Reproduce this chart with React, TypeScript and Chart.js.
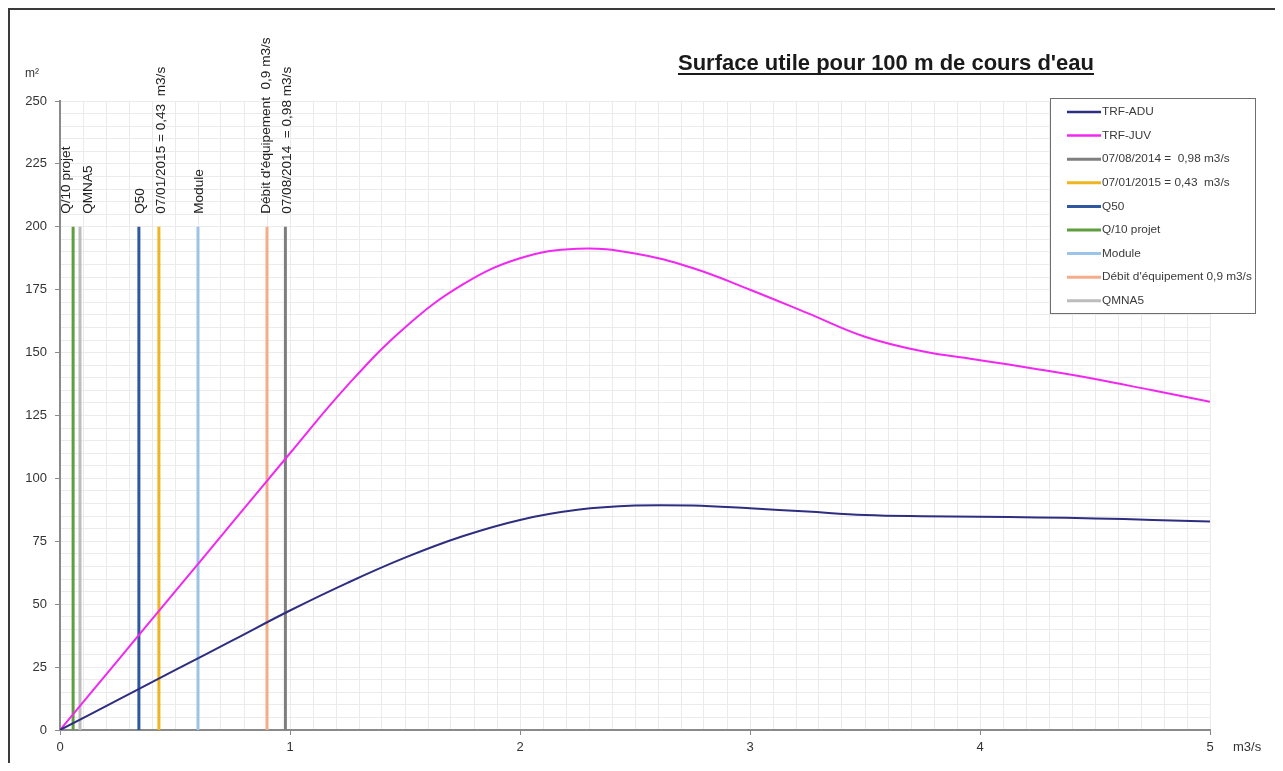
import React, { useEffect, useRef } from "react";
import { Chart, registerables } from "chart.js";

Chart.register(...registerables);

// Flow values (m3/s)
const flows = [0, 0.25, 0.5, 0.75, 1, 1.25, 1.5, 1.75, 2, 2.25, 2.5, 2.75, 3, 3.25, 3.5, 3.75, 4, 4.25, 4.5, 4.75, 5];
// Surface utile (m²) for 100 m
const trfAdu = [0, 11.9, 23.8, 35.6, 47.5, 58.5, 68.5, 77, 83.5, 87.5, 89.2, 89.2, 88.1, 86.8, 85.5, 85, 84.8, 84.5, 84.1, 83.5, 82.9];
const trfJuv = [0, 27.5, 55, 82.5, 110, 137, 160, 177, 187.5, 191.3, 189.4, 183.6, 175, 165.7, 156.3, 150.5, 147, 143.4, 139.5, 135, 130.5];

const seriesNames = ["TRF-ADU", "TRF-JUV"];
const seriesColors = ["#2E2E80", "#F028F0"];

// Reference flows (vertical markers)
const refNames = ["07/08/2014 =  0,98 m3/s", "07/01/2015 = 0,43  m3/s", "Q50", "Q/10 projet", "Module", "Débit d'équipement 0,9 m3/s", "QMNA5"];
const refTags = ["07/08/2014  = 0,98 m3/s", "07/01/2015 = 0,43  m3/s", "Q50", "Q/10 projet", "Module", "Débit d'équipement  0,9 m3/s", "QMNA5"];
const refFlows = [0.98, 0.43, 0.343, 0.057, 0.6, 0.9, 0.087];
const refHeight = 200;
const refColors = ["#7F7F7F", "#EDB520", "#2F56A0", "#5E9E3E", "#9DC3E6", "#F4AC8A", "#BDBDBD"];
const refTagDx = [2, 2, 1, -7, 1, -1, 8];

const xTickLabels = ["0", "1", "2", "3", "4", "5"];
const yTickLabels = ["0", "25", "50", "75", "100", "125", "150", "175", "200", "225", "250"];

const titleText = "Surface utile pour 100 m de cours d'eau";
const yUnit = "m²";
const xUnit = "m3/s";

const FONT = "'Liberation Sans', Arial, sans-serif";

const overlayPlugin = {
  id: "overlay",
  afterDraw(chart: any) {
    const ctx = chart.ctx as CanvasRenderingContext2D;
    const xs = chart.scales.x;
    const ys = chart.scales.y;
    const W = chart.width;
    ctx.save();

    // outer frame (top & left)
    ctx.strokeStyle = "#3a3a3a";
    ctx.lineWidth = 2;
    ctx.beginPath();
    ctx.moveTo(W, 1);
    ctx.lineTo(1, 1);
    ctx.lineTo(1, chart.height);
    ctx.stroke();

    // title
    ctx.fillStyle = "#1a1a1a";
    ctx.font = `bold 22px ${FONT}`;
    ctx.textAlign = "center";
    ctx.textBaseline = "alphabetic";
    const tx = 878;
    const ty = 62;
    ctx.fillText(titleText, tx, ty);
    const tw = ctx.measureText(titleText).width;
    ctx.fillRect(tx - tw / 2, ty + 3, tw, 2);

    // units
    ctx.font = `12px ${FONT}`;
    ctx.fillStyle = "#333";
    ctx.textAlign = "left";
    ctx.textBaseline = "middle";
    ctx.fillText(yUnit, 17, 66);
    ctx.font = `13px ${FONT}`;
    ctx.fillText(xUnit, 1225, 739);

    // vertical tags
    ctx.font = `13.6px ${FONT}`;
    ctx.fillStyle = "#222";
    refTags.forEach((t, i) => {
      const x = xs.getPixelForValue(refFlows[i]) + refTagDx[i];
      const y = ys.getPixelForValue(refHeight) - 13;
      ctx.save();
      ctx.translate(x, y);
      ctx.rotate(-Math.PI / 2);
      ctx.textAlign = "left";
      ctx.textBaseline = "middle";
      ctx.fillText(t, 0, 0);
      ctx.restore();
    });

    // legend box
    const names = [...seriesNames, ...refNames];
    const colors = [...seriesColors, ...refColors];
    const bx = 1042, by = 90, bw = 205, bh = 215;
    ctx.fillStyle = "#fff";
    ctx.fillRect(bx, by, bw, bh);
    ctx.strokeStyle = "#6e6e6e";
    ctx.lineWidth = 1;
    ctx.strokeRect(bx + 0.5, by + 0.5, bw, bh);
    ctx.font = `11.8px ${FONT}`;
    ctx.textAlign = "left";
    ctx.textBaseline = "middle";
    names.forEach((n, i) => {
      const y = by + 14 + i * 23.6;
      ctx.strokeStyle = colors[i];
      ctx.lineWidth = i < 2 ? 2.5 : 3;
      ctx.beginPath();
      ctx.moveTo(bx + 17, y);
      ctx.lineTo(bx + 51, y);
      ctx.stroke();
      ctx.fillStyle = "#3a3a3a";
      ctx.fillText(n, bx + 52, y);
    });

    ctx.restore();
  },
};

const isMultiple = (v: number, step: number) => Math.abs(v / step - Math.round(v / step)) < 1e-6;

export default function App() {
  const ref = useRef<HTMLCanvasElement | null>(null);
  useEffect(() => {
    if (!ref.current) return;
    const datasets: any[] = [
      {
        label: seriesNames[0],
        data: flows.map((x, i) => ({ x, y: trfAdu[i] })),
        borderColor: seriesColors[0],
        borderWidth: 2,
        pointRadius: 0,
        tension: 0.4,
      },
      {
        label: seriesNames[1],
        data: flows.map((x, i) => ({ x, y: trfJuv[i] })),
        borderColor: seriesColors[1],
        borderWidth: 2,
        pointRadius: 0,
        tension: 0.4,
      },
      ...refNames.map((n, i) => ({
        label: n,
        data: [
          { x: refFlows[i], y: 0 },
          { x: refFlows[i], y: refHeight },
        ],
        borderColor: refColors[i],
        borderWidth: 3,
        pointRadius: 0,
      })),
    ];
    const chart = new Chart(ref.current, {
      type: "line",
      data: { datasets },
      plugins: [overlayPlugin],
      options: {
        animation: false,
        responsive: false,
        maintainAspectRatio: false,
        layout: { padding: { left: 0, top: 93, right: 65, bottom: 0 } },
        plugins: { legend: { display: false }, tooltip: { enabled: false }, title: { display: false } },
        scales: {
          x: {
            type: "linear",
            min: 0,
            max: 5,
            afterFit: (s: any) => {
              s.height = 33;
            },
            border: { display: true, color: "#8a8a8a", width: 2 },
            grid: {
              color: "#ebebeb",
              lineWidth: 1,
              tickLength: 5,
              tickColor: (c: any) => (isMultiple(c.tick.value, 1) ? "#8a8a8a" : "rgba(0,0,0,0)"),
            },
            ticks: {
              stepSize: 0.1,
              maxTicksLimit: 100,
              autoSkip: false,
              maxRotation: 0,
              padding: 5,
              color: "#333",
              font: { family: FONT, size: 13 },
              callback: (v: any) => (isMultiple(Number(v), 1) ? xTickLabels[Math.round(Number(v))] : ""),
            },
          },
          y: {
            type: "linear",
            min: 0,
            max: 250,
            afterFit: (s: any) => {
              s.width = 52;
            },
            border: { display: true, color: "#8a8a8a", width: 2 },
            grid: {
              color: "#ebebeb",
              lineWidth: 1,
              tickLength: 5,
              tickColor: (c: any) => (isMultiple(c.tick.value, 25) ? "#8a8a8a" : "rgba(0,0,0,0)"),
            },
            ticks: {
              stepSize: 5,
              maxTicksLimit: 100,
              autoSkip: false,
              padding: 8,
              color: "#333",
              font: { family: FONT, size: 13 },
              callback: (v: any) => (isMultiple(Number(v), 25) ? yTickLabels[Math.round(Number(v) / 25)] : ""),
            },
          },
        },
      } as any,
    });
    return () => chart.destroy();
  }, []);
  return (
    <div style={{ width: 1267, height: 755 }}>
      <canvas ref={ref} width={1267} height={755} style={{ display: "block" }} />
    </div>
  );
}
